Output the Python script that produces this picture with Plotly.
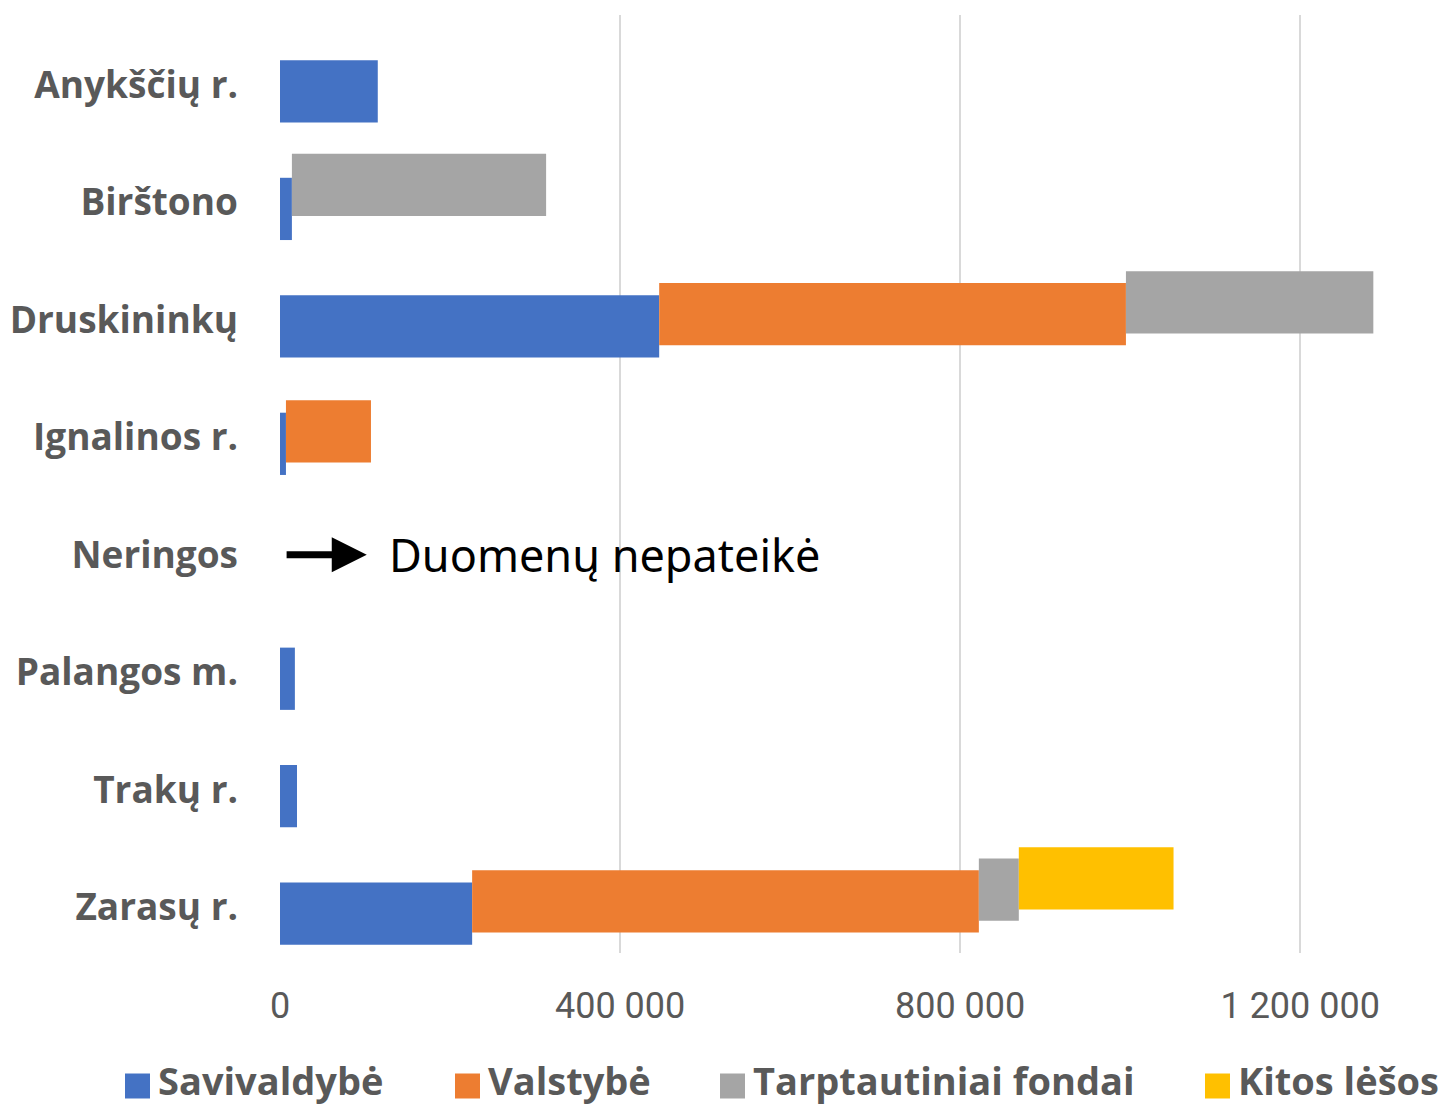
import plotly.graph_objects as go
import numpy as np

categories = ["Anykščių r.", "Birštono", "Druskininkų", "Ignalinos r.",
              "Neringos", "Palangos m.", "Trakų r.", "Zarasų r."]
savivaldybe = [115000, 14000, 446000, 7000, 0, 17500, 20000, 226000]
valstybe = [0, 0, 549000, 100000, 0, 0, 0, 596000]
tarptautiniai = [0, 299000, 291000, 0, 0, 0, 0, 47000]
kitos = [0, 0, 0, 0, 0, 0, 0, 182000]

series_names = ["Savivaldybė", "Valstybė", "Tarptautiniai fondai", "Kitos lėšos"]
series_values = [savivaldybe, valstybe, tarptautiniai, kitos]
colors = ["#4472C4", "#ED7D31", "#A5A5A5", "#FFC000"]
offsets = [-0.21, -0.315, -0.415, -0.51]
bar_width = 0.53

x_tickvals = [0, 400000, 800000, 1200000]
x_ticktext = ["0", "400 000", "800 000", "1 200 000"]

BODY = 8  # page body margin
W, H = 1449 - BODY, 1108 - BODY
ML, MR, MT, MB = 272, 0, 7, 155
PW, PH = W - ML - MR, H - MT - MB


def px_to_paper_x(px):
    return (px - BODY - ML) / PW


def px_to_paper_y(py):
    return ((H - MB) - (py - BODY)) / PH


fig = go.Figure()
ypos = list(range(len(categories)))
base = np.zeros(len(categories))
for name, vals, col, off in zip(series_names, series_values, colors, offsets):
    v = np.array(vals, dtype=float)
    fig.add_trace(go.Bar(
        y=ypos, x=v, base=base.copy(), orientation="h",
        offset=off, width=bar_width,
        marker=dict(color=col, line=dict(width=0)),
        name=name, showlegend=False,
    ))
    base = base + v

# manual legend (square swatches + labels)
legend_square_left = [125, 455, 720, 1205]
legend_text_y = 1080
legend_square_y = 1086
sq = 25
for name, col, left in zip(series_names, colors, legend_square_left):
    fig.add_shape(
        type="rect", xref="paper", yref="paper",
        x0=px_to_paper_x(left), x1=px_to_paper_x(left + sq),
        y0=px_to_paper_y(legend_square_y + sq / 2), y1=px_to_paper_y(legend_square_y - sq / 2),
        fillcolor=col, line=dict(width=0),
    )
    fig.add_annotation(
        xref="paper", yref="paper",
        x=px_to_paper_x(left + sq + 6), y=px_to_paper_y(legend_text_y),
        xanchor="left", yanchor="middle", text=name, showarrow=False,
        font=dict(family="Open Sans", size=38, color="#595959", weight="bold"),
    )

fig.add_annotation(
    x=102000, y=4, ax=6000, ay=4, xref="x", yref="y", axref="x", ayref="y",
    text="", showarrow=True, arrowhead=2, arrowsize=1.0, arrowwidth=7,
    arrowcolor="black",
)
fig.add_annotation(
    x=126000, y=4, xref="x", yref="y", xanchor="left", yanchor="middle",
    text="Duomenų nepateikė", showarrow=False,
    font=dict(family="Noto Sans", size=45, color="black"),
)

fig.update_layout(
    width=W, height=H,
    margin=dict(l=ML, r=MR, t=MT, b=MB, autoexpand=False),
    paper_bgcolor="white", plot_bgcolor="white",
    barmode="overlay",
    showlegend=False,
    xaxis=dict(
        range=[0, 1375000], tickvals=x_tickvals, ticktext=x_ticktext,
        showgrid=True, gridcolor="#D9D9D9", gridwidth=2,
        zeroline=False, showline=False, automargin=False,
        ticks="", ticklabelstandoff=28,
        tickfont=dict(family="Roboto", size=36, color="#595959"),
    ),
    yaxis=dict(
        range=[7.39, -0.596], tickvals=ypos, ticktext=categories,
        showgrid=False, zeroline=False, showline=False, ticks="",
        automargin=False, ticklabelstandoff=41,
        tickfont=dict(family="Open Sans", size=37, color="#595959", weight="bold"),
    ),
)

fig.write_html("out.html")
